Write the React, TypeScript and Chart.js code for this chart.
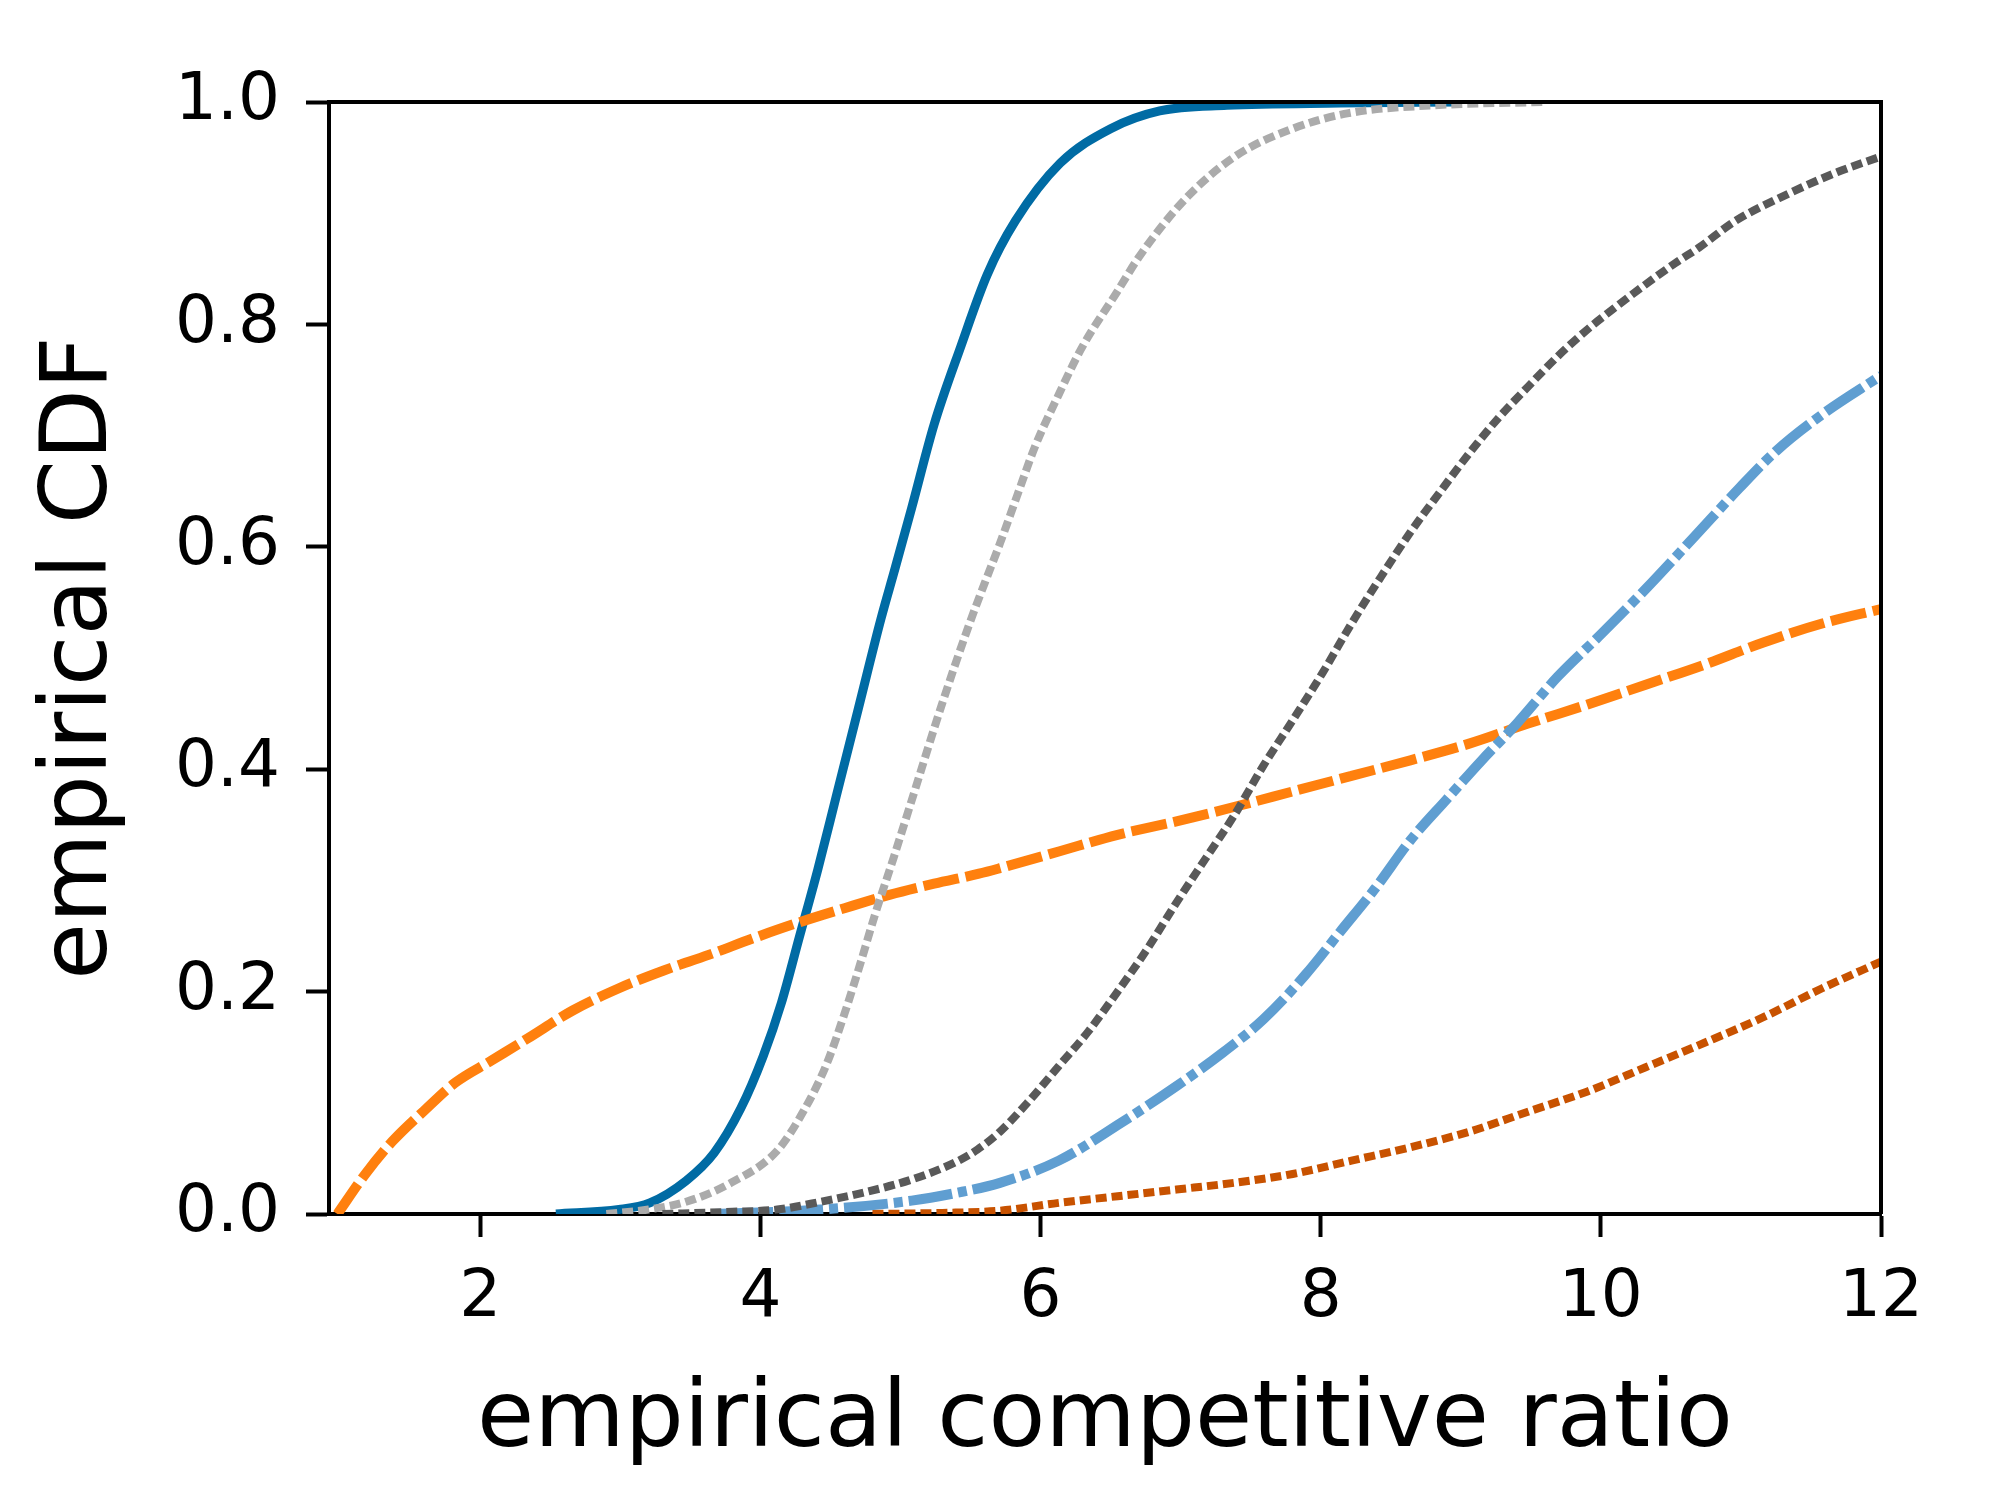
import { Chart, registerables } from "chart.js";
import { useEffect, useRef } from "react";

Chart.register(...registerables);

// tick labels
const xTicks = [2, 4, 6, 8, 10, 12];
const yTicks = [0, 0.2, 0.4, 0.6, 0.8, 1.0];

// solid dark blue
const blueX = [2.54, 2.99, 3.21, 3.47, 3.67, 3.86, 4.02, 4.15, 4.28, 4.41, 4.54, 4.7, 4.86, 4.96, 5.08, 5.24, 5.43, 5.62, 5.82, 6.14, 6.5, 6.85, 7.33, 8.14, 9.0];
const blueY = [0, 0.004, 0.01, 0.03, 0.055, 0.095, 0.142, 0.19, 0.25, 0.31, 0.375, 0.455, 0.535, 0.58, 0.635, 0.71, 0.78, 0.845, 0.893, 0.945, 0.976, 0.992, 0.997, 0.999, 1.0];

// light grey dotted
const lgreyX = [2.9, 3.2, 3.47, 3.79, 4.12, 4.31, 4.47, 4.6, 4.72, 4.82, 4.95, 5.08, 5.3, 5.49, 5.6, 5.71, 5.83, 5.96, 6.13, 6.29, 6.55, 6.71, 7.05, 7.4, 7.8, 8.2, 8.8, 9.6];
const lgreyY = [0, 0.004, 0.011, 0.028, 0.057, 0.093, 0.134, 0.18, 0.228, 0.27, 0.32, 0.372, 0.46, 0.53, 0.567, 0.603, 0.645, 0.69, 0.737, 0.778, 0.83, 0.862, 0.915, 0.952, 0.976, 0.99, 0.997, 1.0];

// dark grey dotted
const dgreyX = [3.3, 3.8, 4.12, 4.43, 4.76, 5.08, 5.4, 5.55, 5.71, 5.92, 6.13, 6.34, 6.55, 6.76, 6.97, 7.18, 7.38, 7.59, 7.8, 8.01, 8.22, 8.43, 8.64, 8.85, 9.06, 9.27, 9.48, 9.69, 9.9, 10.11, 10.32, 10.53, 10.7, 10.96, 11.33, 11.69, 12.0];
const dgreyY = [0, 0.002, 0.004, 0.011, 0.02, 0.031, 0.047, 0.058, 0.074, 0.102, 0.133, 0.164, 0.2, 0.238, 0.28, 0.32, 0.358, 0.403, 0.444, 0.486, 0.531, 0.573, 0.613, 0.649, 0.684, 0.716, 0.744, 0.771, 0.795, 0.816, 0.836, 0.855, 0.869, 0.893, 0.917, 0.937, 0.951];

// light blue dash-dot
const lblueX = [3.67, 4.43, 5.08, 5.4, 5.71, 6.13, 6.55, 6.97, 7.3, 7.59, 7.89, 8.14, 8.39, 8.64, 8.9, 9.15, 9.4, 9.69, 9.99, 10.32, 10.66, 10.99, 11.25, 11.58, 12.0];
const lblueY = [0, 0.004, 0.012, 0.019, 0.028, 0.048, 0.08, 0.115, 0.145, 0.175, 0.215, 0.254, 0.293, 0.336, 0.373, 0.408, 0.441, 0.483, 0.52, 0.562, 0.608, 0.653, 0.686, 0.719, 0.754];

// orange dashed
const orangeX = [0.98, 1.18, 1.37, 1.6, 1.82, 2.08, 2.34, 2.66, 2.99, 3.31, 3.63, 3.95, 4.27, 4.6, 4.92, 5.24, 5.56, 5.71, 6.13, 6.55, 6.97, 7.38, 7.8, 8.22, 8.64, 9.06, 9.48, 9.9, 10.32, 10.74, 11.16, 11.58, 12.0];
const orangeY = [0, 0.036, 0.065, 0.093, 0.118, 0.138, 0.158, 0.183, 0.203, 0.219, 0.233, 0.248, 0.262, 0.275, 0.287, 0.297, 0.306, 0.311, 0.326, 0.341, 0.353, 0.366, 0.38, 0.394, 0.408, 0.423, 0.441, 0.458, 0.476, 0.494, 0.514, 0.531, 0.544];

// dark orange dotted
const dorangeX = [4.8, 5.3, 5.71, 6.13, 6.55, 6.97, 7.38, 7.8, 8.22, 8.64, 9.06, 9.48, 9.9, 10.32, 10.74, 11.16, 11.58, 12.0];
const dorangeY = [0, 0.001, 0.003, 0.01, 0.016, 0.022, 0.028, 0.036, 0.048, 0.06, 0.074, 0.092, 0.11, 0.132, 0.154, 0.177, 0.203, 0.227];

const pts = (xs: number[], ys: number[]) => xs.map((x, i) => ({ x, y: ys[i] }));

const font = "'DejaVu Sans', sans-serif";

// top and right spines
const framePlugin = {
    id: "frame",
    afterDatasetsDraw(chart: any) {
        const { ctx, chartArea } = chart;
        ctx.save();
        ctx.strokeStyle = "#000";
        ctx.lineWidth = 4;
        ctx.beginPath();
        ctx.moveTo(chartArea.left, chartArea.top);
        ctx.lineTo(chartArea.right, chartArea.top);
        ctx.lineTo(chartArea.right, chartArea.bottom);
        ctx.stroke();
        ctx.restore();
    },
};

export default function App() {
    const canvasRef = useRef<HTMLCanvasElement | null>(null);
    useEffect(() => {
        const ctx = canvasRef.current?.getContext("2d");
        if (!ctx) return;
        const line = (data: any, color: string, width: number, dash: number[]) => ({
            data,
            borderColor: color,
            backgroundColor: color,
            borderWidth: width,
            borderDash: dash,
            showLine: true,
            pointRadius: 0,
            cubicInterpolationMode: "monotone",
            fill: false,
        });
        const chart = new Chart(ctx, {
            type: "scatter",
            data: {
                datasets: [
                    line(pts(dorangeX, dorangeY), "#C85200", 8, [11, 5]),
                    line(pts(dgreyX, dgreyY), "#595959", 8, [11, 5]),
                    line(pts(lgreyX, lgreyY), "#ABABAB", 8, [11, 5]),
                    line(pts(lblueX, lblueY), "#5F9ED1", 10, [44, 6, 9, 6]),
                    line(pts(orangeX, orangeY), "#FF800E", 10, [36, 7]),
                    line(pts(blueX, blueY), "#006BA4", 9, []),
                ] as any,
            },
            options: {
                animation: false,
                responsive: true,
                maintainAspectRatio: false,
                devicePixelRatio: 1,
                layout: { padding: { top: 102, right: 119, left: 0, bottom: 0 } },
                plugins: { legend: { display: false }, tooltip: { enabled: false } },
                scales: {
                    x: {
                        type: "linear",
                        min: 0.92,
                        max: 12,
                        afterBuildTicks: (s: any) => { s.ticks = xTicks.map(v => ({ value: v })); },
                        afterFit: (s: any) => { s.height = 286; },
                        grid: { drawOnChartArea: false, drawTicks: true, tickLength: 23, tickWidth: 4, tickColor: "#000" },
                        border: { display: true, width: 4, color: "#000" },
                        ticks: { color: "#000", padding: 22, font: { family: font, size: 66 }, maxRotation: 0 },
                        title: { display: true, text: "empirical competitive ratio", color: "#000", font: { family: font, size: 93 }, padding: { top: 0, bottom: 22 } },
                    },
                    y: {
                        type: "linear",
                        min: 0,
                        max: 1,
                        afterBuildTicks: (s: any) => { s.ticks = yTicks.map(v => ({ value: v })); },
                        afterFit: (s: any) => { s.width = 329; },
                        grid: { drawOnChartArea: false, drawTicks: true, tickLength: 23, tickWidth: 4, tickColor: "#000" },
                        border: { display: true, width: 4, color: "#000" },
                        ticks: { color: "#000", padding: 26, font: { family: font, size: 66 }, callback: (v: any) => Number(v).toFixed(1) },
                        title: { display: true, text: "empirical CDF", color: "#000", font: { family: font, size: 92 }, padding: { top: 27, bottom: 0 } },
                    },
                },
            },
            plugins: [framePlugin],
        });
        return () => {
            chart.destroy();
        };
    }, []);
    return (
        <div style={{ position: "fixed", left: 0, top: 0, width: 2000, height: 1500, background: "#fff" }}>
            <canvas ref={canvasRef} />
        </div>
    );
}
